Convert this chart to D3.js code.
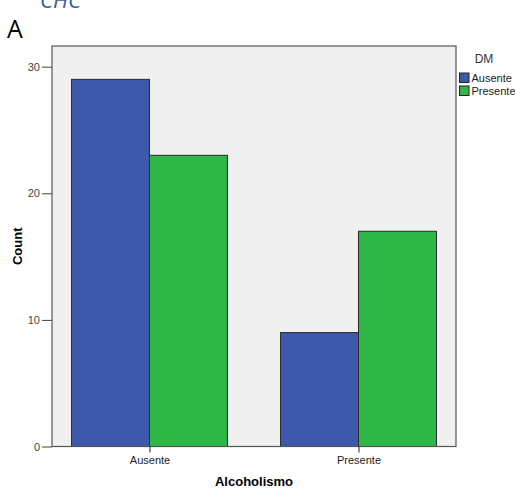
<!DOCTYPE html>
<meta charset="utf-8">
<style>
    body { margin: 0; background: #fff; }
    text { font-family: "Liberation Sans", Arial, sans-serif; }
</style>
<body>
<script src="https://cdn.jsdelivr.net/npm/d3@7"></script>
<script>
    var categories = ["Ausente", "Presente"]
    var series = ["Ausente", "Presente"]
    var ausenteVals = [29, 9]
    var presenteVals = [23, 17]
    var yTicks = [0, 10, 20, 30]

    var width = 515, height = 489
    var x0 = 52, x1 = 456, yTop = 46, yBot = 446.5

    var svg = d3.select("body").append("svg")
        .attr("width", width)
        .attr("height", height)

    var colors = d3.scaleOrdinal().domain(series).range(["#3e58ac", "#2eb848"])

    var x = d3.scaleBand().domain(categories).range([x0, x1])
        .paddingInner(0.254).paddingOuter(0.0935)
    var xs = d3.scaleBand().domain(series).range([0, x.bandwidth()])
    var y = d3.scaleLinear().domain([0, 30]).range([yBot, 66.7])

    // title clipped at the top edge, as in the source
    svg.append("text")
        .attr("x", 40).attr("y", 8)
        .style("font-family", "'Open Sans', sans-serif")
        .style("font-style", "italic")
        .style("font-size", "22px")
        .attr("fill", "#3a5c9c")
        .text("CHC")

    svg.append("text")
        .attr("x", 7).attr("y", 38)
        .style("font-family", "'Open Sans', sans-serif")
        .style("font-size", "25px")
        .attr("fill", "#000")
        .text("A")

    svg.append("rect")
        .attr("x", x0).attr("y", yTop)
        .attr("width", x1 - x0).attr("height", yBot - yTop)
        .attr("fill", "#f0f0f0")

    var rows = categories.map(function (c, i) {
        return [{cat: c, s: series[0], v: ausenteVals[i]}, {cat: c, s: series[1], v: presenteVals[i]}]
    })

    var g = svg.selectAll(".grp").data(rows).enter().append("g")
        .attr("transform", function (d) { return "translate(" + x(d[0].cat) + ",0)" })

    g.selectAll("rect").data(function (d) { return d }).enter().append("rect")
        .attr("x", function (d) { return xs(d.s) })
        .attr("y", function (d) { return y(d.v) })
        .attr("width", xs.bandwidth())
        .attr("height", function (d) { return yBot - y(d.v) })
        .attr("fill", function (d) { return colors(d.s) })
        .attr("stroke", "#2a2a2a")
        .attr("stroke-width", 1)

    svg.append("rect")
        .attr("x", x0).attr("y", yTop)
        .attr("width", x1 - x0).attr("height", yBot - yTop)
        .attr("fill", "none")
        .attr("stroke", "#555")
        .attr("stroke-width", 1.2)

    var yAxis = svg.append("g")
        .attr("transform", "translate(" + x0 + ",0)")
        .call(d3.axisLeft(y).tickValues(yTicks).tickSize(10).tickPadding(2))
    yAxis.select(".domain").remove()
    yAxis.selectAll("line").attr("stroke", "#444")
    yAxis.selectAll("text").attr("fill", "#444").style("font-size", "11px")
        .style("font-family", "'Liberation Sans', Arial, sans-serif")

    var xAxis = svg.append("g")
        .attr("transform", "translate(0," + yBot + ")")
        .call(d3.axisBottom(d3.scalePoint().domain(categories)
            .range([x(categories[0]) + x.bandwidth() / 2, x(categories[1]) + x.bandwidth() / 2]))
            .tickSize(6).tickPadding(4))
    xAxis.select(".domain").remove()
    xAxis.selectAll("line").attr("stroke", "#222")
    xAxis.selectAll("text").attr("fill", "#222").style("font-size", "11px")
        .style("font-family", "'Liberation Sans', Arial, sans-serif")

    svg.append("text")
        .attr("transform", "translate(22," + (yTop + yBot) / 2 + ") rotate(-90)")
        .attr("text-anchor", "middle")
        .style("font-size", "13px").style("font-weight", "bold")
        .text("Count")

    svg.append("text")
        .attr("x", (x0 + x1) / 2).attr("y", 486)
        .attr("text-anchor", "middle")
        .style("font-size", "13px").style("font-weight", "bold")
        .text("Alcoholismo")

    // legend
    svg.append("text")
        .attr("x", 484).attr("y", 63)
        .attr("text-anchor", "middle")
        .style("font-size", "12px").attr("fill", "#333")
        .text("DM")

    var leg = svg.selectAll(".leg").data(series).enter().append("g")
        .attr("transform", function (d, i) { return "translate(459.5," + (73 + i * 13) + ")" })
    leg.append("rect")
        .attr("width", 9.5).attr("height", 9.5)
        .attr("fill", function (d) { return colors(d) })
        .attr("stroke", "#222")
    leg.append("text")
        .attr("x", 12).attr("y", 9)
        .style("font-size", "11px").attr("fill", "#222")
        .text(function (d) { return d })
</script>
</body>
